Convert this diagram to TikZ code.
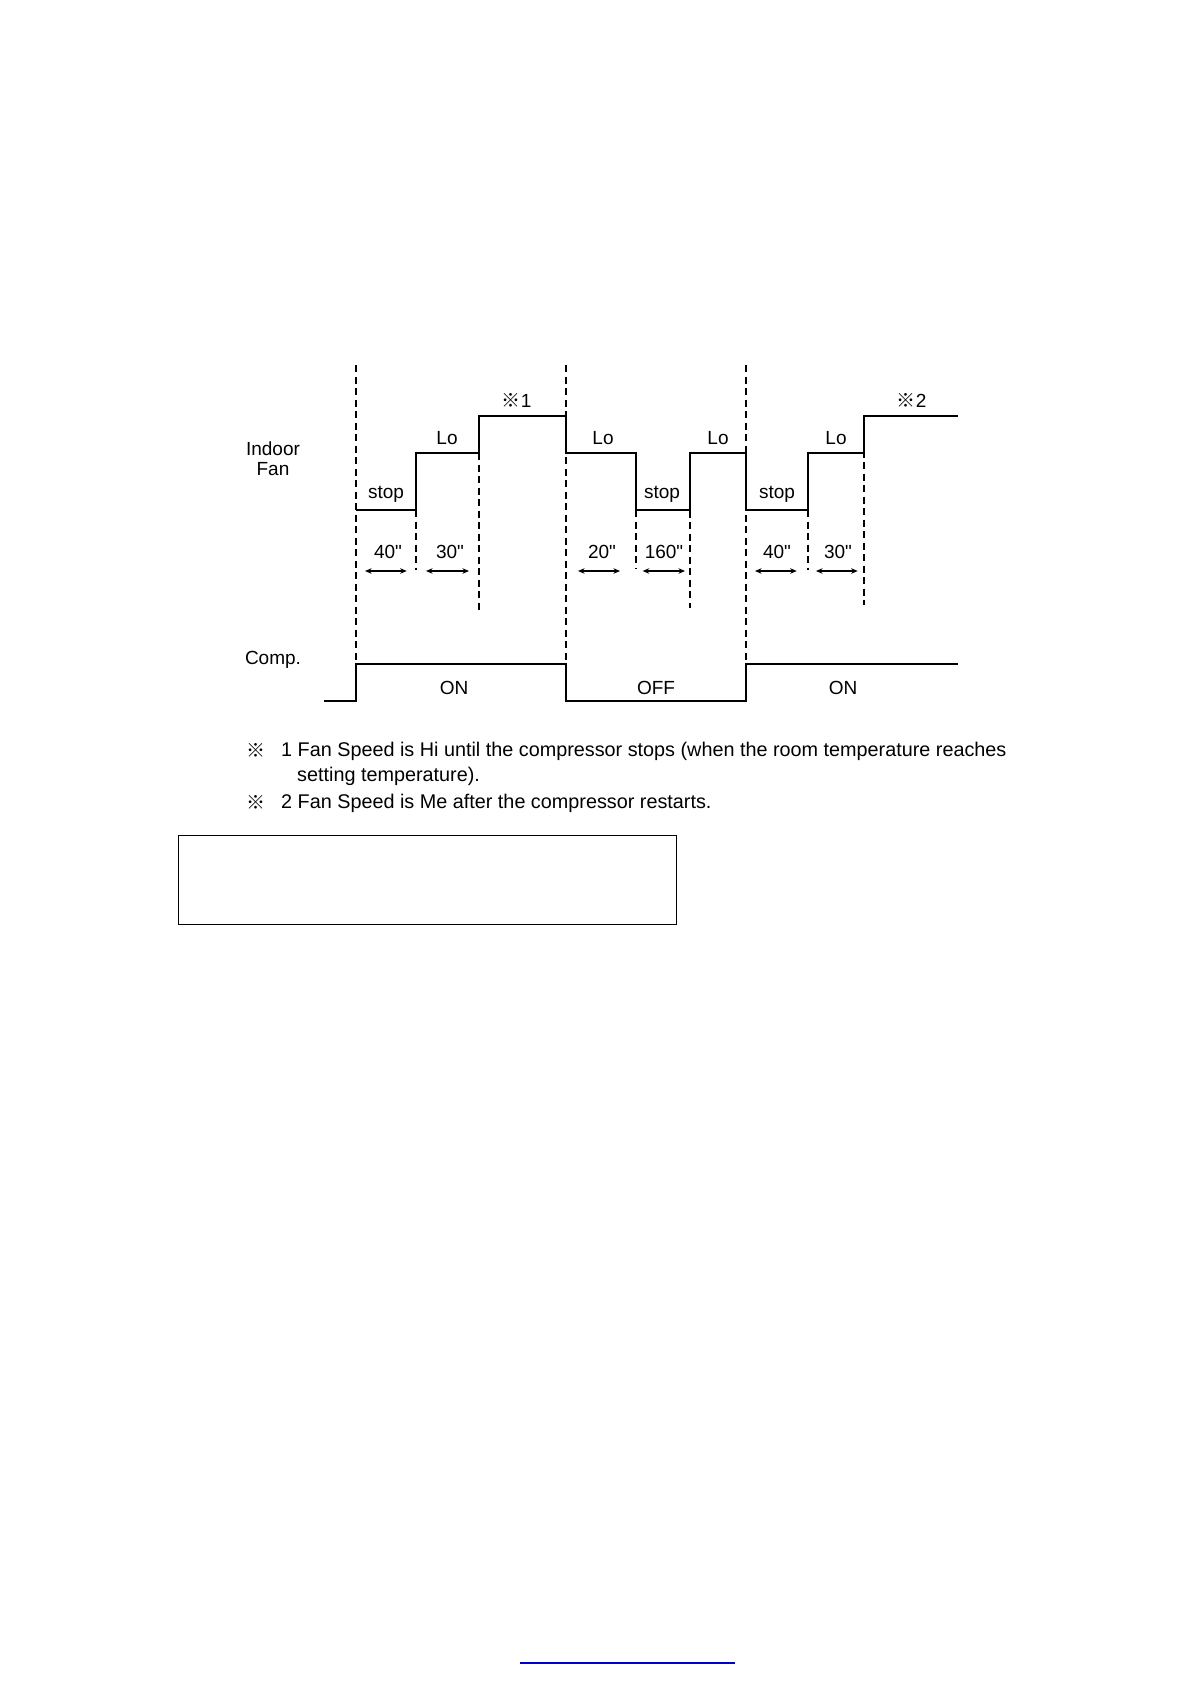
\documentclass[tikz,border=0pt]{standalone}
\usepackage{fontspec}
\setmainfont{Liberation Sans}[Ligatures=TeXOff]
\newfontfamily\cjk{Noto Sans CJK JP}
\usetikzlibrary{arrows.meta}
\begin{document}
\begin{tikzpicture}[x=1pt,y=-1pt,
  lbl/.style={font=\fontsize{19}{22}\selectfont, inner sep=0pt},
  note/.style={font=\fontsize{19.8}{23}\selectfont, inner sep=0pt, anchor=base west},
  sig/.style={line width=1.6pt, line join=miter},
  losig/.style={line width=2.4pt},
  guide/.style={line width=1.4pt, dash pattern=on 7pt off 4.5pt},
  dim/.style={line width=1.2pt, {Stealth[length=6.5pt,width=5.5pt]}-{Stealth[length=6.5pt,width=5.5pt]}},
]
\useasboundingbox[fill=white] (0,0) rectangle (1190,1684);

% guide lines
\coordinate (g1t) at (356,365);   \coordinate (g1b) at (356,663.7);
\coordinate (g2t) at (416,510);   \coordinate (g2b) at (416,570);
\coordinate (g3t) at (479,453);   \coordinate (g3b) at (479,610);
\coordinate (g4t) at (566,365);   \coordinate (g4b) at (566,663.7);
\coordinate (g5t) at (636,510);   \coordinate (g5b) at (636,568);
\coordinate (g6t) at (690,453);   \coordinate (g6b) at (690,608);
\coordinate (g7t) at (746,365);   \coordinate (g7b) at (746,663.7);
\coordinate (g8t) at (808,510);   \coordinate (g8b) at (808,570);
\coordinate (g9t) at (864,416);   \coordinate (g9b) at (864,605);
\foreach \i in {1,...,9} \draw[guide] (g\i t) -- (g\i b);

% indoor fan signal
\draw[sig] (356,510) -- (416,510) -- (416,453) -- (479,453) -- (479,416) -- (566,416)
  -- (566,453) -- (636,453) -- (636,510) -- (690,510) -- (690,453) -- (746,453)
  -- (746,510) -- (808,510) -- (808,453) -- (864,453) -- (864,416) -- (958,416);
\draw[losig] (416,453) -- (479,453);
\draw[losig] (566,453) -- (636,453);
\draw[losig] (690,453) -- (746,453);
\draw[losig] (808,453) -- (864,453);

% compressor signal
\draw[sig] (324,701) -- (356,701) -- (356,663.7) -- (566,663.7) -- (566,701)
  -- (746,701) -- (746,663.7) -- (958,663.7);

% labels
\node[lbl] (indoor) at (273,449) {Indoor};
\node[lbl] (fan) at (273,469) {Fan};
\node[lbl] (comp) at (273,660) {Comp.};
\node[lbl] (n1) at (516.7,400) {{\cjk ※}1};
\node[lbl] (n2) at (911.7,400) {{\cjk ※}2};
\node[lbl] (lo1) at (447,438) {Lo};
\node[lbl] (lo2) at (603,438) {Lo};
\node[lbl] (lo3) at (718,438) {Lo};
\node[lbl] (lo4) at (836,438) {Lo};
\node[lbl] (st1) at (386,494) {stop};
\node[lbl] (st2) at (662,494) {stop};
\node[lbl] (st3) at (777,494) {stop};
\node[lbl] (t1) at (388,552) {40"};
\node[lbl] (t2) at (450,552) {30"};
\node[lbl] (t3) at (602,552) {20"};
\node[lbl] (t4) at (664,552) {160"};
\node[lbl] (t5) at (777,552) {40"};
\node[lbl] (t6) at (838,552) {30"};
\node[lbl] (on1) at (454,688) {ON};
\node[lbl] (off) at (656,688) {OFF};
\node[lbl] (on2) at (843,688) {ON};

% dimension arrows
\coordinate (a1l) at (365,571);   \coordinate (a1r) at (406.7,571);
\coordinate (a2l) at (426,571);   \coordinate (a2r) at (469,571);
\coordinate (a3l) at (578,571);   \coordinate (a3r) at (620,571);
\coordinate (a4l) at (642.7,571); \coordinate (a4r) at (685,571);
\coordinate (a5l) at (755,571);   \coordinate (a5r) at (796.7,571);
\coordinate (a6l) at (816,571);   \coordinate (a6r) at (857.7,571);
\foreach \i in {1,...,6} \draw[dim] (a\i l) -- (a\i r);

% notes
\node[lbl] (m1) at (255.6,750) {\cjk ※};
\node[note] (f1) at (281,756) {1 Fan Speed is Hi until the compressor stops (when the room temperature reaches};
\node[note] (f1b) at (297,781.5) {setting temperature).};
\node[lbl] (m2) at (255.6,802) {\cjk ※};
\node[note] (f2) at (281,808) {2 Fan Speed is Me after the compressor restarts.};

% empty box
\node[draw, line width=1.2pt, minimum width=498.4pt, minimum height=88.7pt, inner sep=0pt] (box) at (427.5,879.8) {};

% blue line at page foot
\coordinate (bl) at (520,1662.7); \coordinate (br) at (735,1662.7);
\draw[blue!80!black, line width=1.6pt] (bl) -- (br);
\end{tikzpicture}
\end{document}
